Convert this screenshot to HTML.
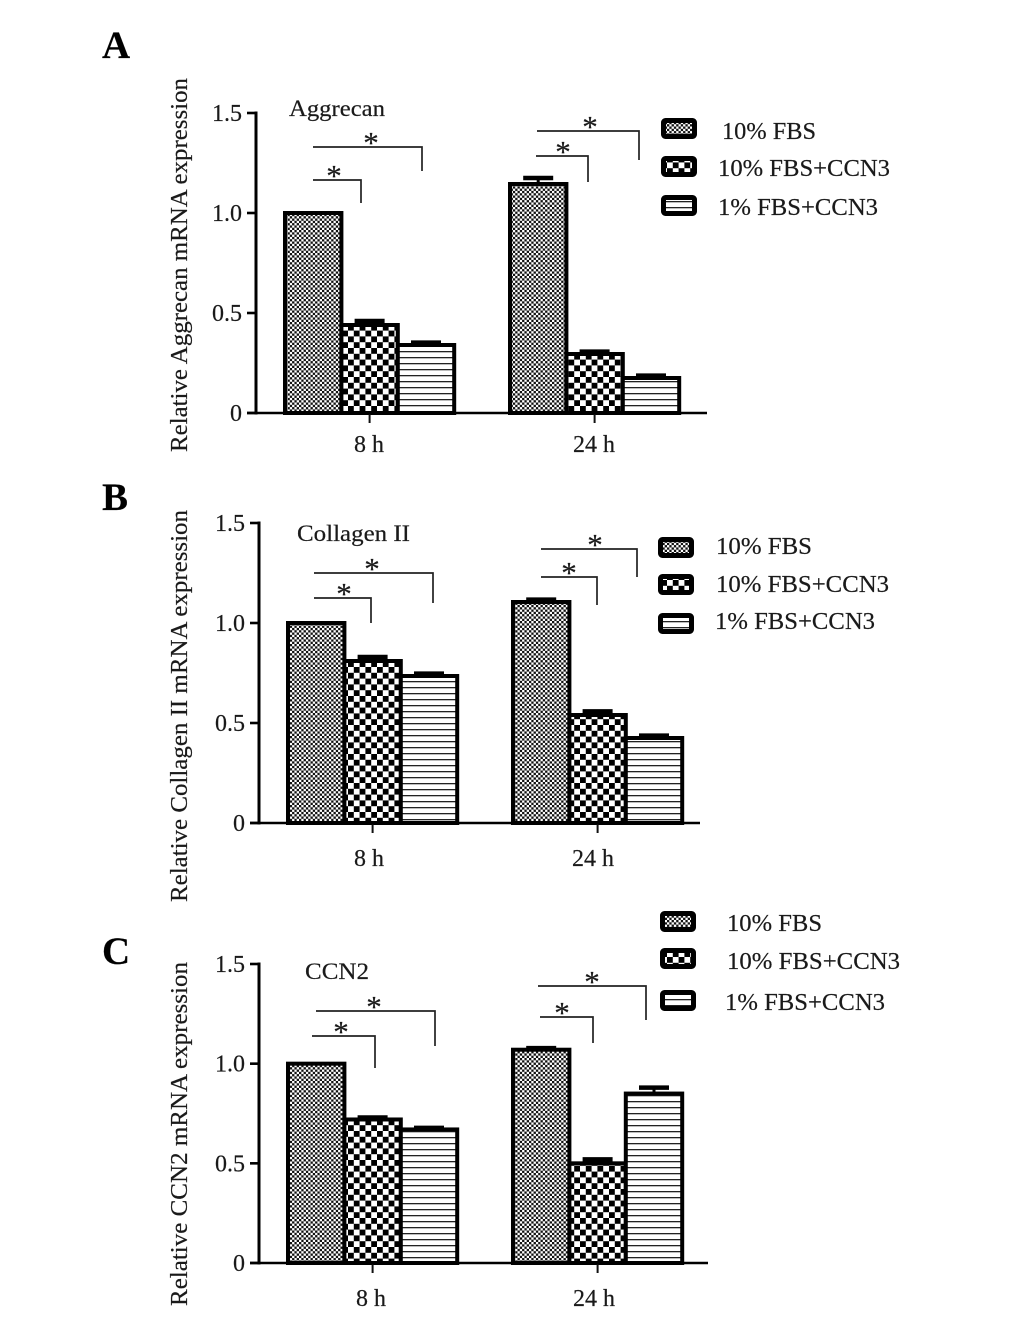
<!DOCTYPE html>
<html>
<head>
<meta charset="utf-8">
<title>mRNA expression bar charts</title>
<style>
html,body{margin:0;padding:0;background:#fff}
svg{display:block}
text{font-family:"Liberation Serif",serif;fill:#1a1a1a;stroke:#1a1a1a;stroke-width:0.2px}
</style>
</head>
<body>
<svg id="figure" width="1033" height="1317" viewBox="0 0 1033 1317" xmlns="http://www.w3.org/2000/svg">
<defs>
<pattern id="fine" patternUnits="userSpaceOnUse" width="4.6" height="4.6"><rect width="4.6" height="4.6" fill="#fff"/><rect width="2.3" height="2.3" fill="#111"/><rect x="2.3" y="2.3" width="2.3" height="2.3" fill="#111"/></pattern>
<pattern id="check" patternUnits="userSpaceOnUse" width="11.6" height="11.6"><rect width="11.6" height="11.6" fill="#fff"/><rect width="5.8" height="5.8" fill="#000"/><rect x="5.8" y="5.8" width="5.8" height="5.8" fill="#000"/></pattern>
<pattern id="lines" patternUnits="userSpaceOnUse" width="6" height="6"><rect width="6" height="6" fill="#fff"/><rect y="3" width="6" height="1.3" fill="#222"/></pattern>
</defs>
</svg>
<script>
const categories = ["8 h", "24 h"];
const seriesNames = ["10% FBS", "10% FBS+CCN3", "1% FBS+CCN3"];
const yTickValues = [0, 0.5, 1.0, 1.5];
const yTickLabels = ["0", "0.5", "1.0", "1.5"];
const aggrecanValues = [[1.0, 0.44, 0.34], [1.145, 0.295, 0.175]];
const aggrecanErrors = [[0, 0.02, 0.012], [0.03, 0.012, 0.012]];
const collagenValues = [[1.0, 0.81, 0.735], [1.105, 0.54, 0.425]];
const collagenErrors = [[0, 0.02, 0.012], [0.012, 0.018, 0.012]];
const ccn2Values = [[1.0, 0.72, 0.67], [1.07, 0.5, 0.85]];
const ccn2Errors = [[0, 0.01, 0.008], [0.008, 0.02, 0.03]];

const NS = "http://www.w3.org/2000/svg";
const svg = document.getElementById("figure");
const fills = ["url(#fine)", "url(#check)", "url(#lines)"];

function add(tag, attrs, parent) {
  const el = document.createElementNS(NS, tag);
  for (const k in attrs) el.setAttribute(k, attrs[k]);
  (parent || svg).appendChild(el);
  return el;
}
function label(parent, str, attrs) {
  const el = add("text", attrs, parent);
  el.textContent = str;
  
  return el;
}

function drawPanel(p) {
  const g = add("g", {});
  
  
  const yScale = v => p.y0 + (p.y15 - p.y0) * (v / 1.5);

  const letter = label(g, p.letter, {x: 102, y: p.letterY, "font-size": 39, "font-weight": "bold", style: "fill:#000"});
  
  const title = label(g, p.title, {x: p.titleX, y: p.titleY, "font-size": 23, textLength: p.titleW, lengthAdjust: "spacingAndGlyphs"});
  

  const yt = label(g, p.yTitle, {
    transform: "translate(187," + p.yTitleStart + ") rotate(-90)",
    "font-size": 24.5, textLength: p.yTitleLen, lengthAdjust: "spacingAndGlyphs"
  });
  

  categories.forEach((cat, c) => {
    p.values[c].forEach((val, s) => {
      const x0 = p.groupX[c] + s * p.barW;
      const yTop = yScale(val);
      const err = p.errors[c][s];
      if (err > 0) {
        const e = add("g", {}, g);
        
        
        const yErr = yScale(val + err);
        const cx = x0 + p.barW / 2;
        add("line", {x1: cx, x2: cx, y1: yTop, y2: yErr, stroke: "#000", "stroke-width": 3}, e);
        add("line", {x1: cx - 15, x2: cx + 15, y1: yErr, y2: yErr, stroke: "#000", "stroke-width": 4.5}, e);
      }
      const bar = add("rect", {
        x: x0, y: yTop, width: p.barW, height: p.y0 - yTop,
        fill: fills[s], stroke: "#000", "stroke-width": 4
      }, g);
      
      
    });
    const cx = p.groupX[c] + p.barW * 1.5;
    const tick = add("line", {x1: cx, x2: cx, y1: p.y0, y2: p.y0 + 10, stroke: "#111", "stroke-width": 2}, g);
    
    
    const xl = label(g, cat, {x: p.catLabelX[c], y: p.catLabelY, "font-size": 24, "text-anchor": "middle"});
    
  });

  const axes = add("g", {}, g);
  
  
  add("line", {x1: p.axisX, x2: p.axisX, y1: yScale(1.5) - 1.5, y2: p.y0 + 1.5, stroke: "#000", "stroke-width": 3}, axes);
  add("line", {x1: p.axisX - 9, x2: p.xEnd, y1: p.y0, y2: p.y0, stroke: "#000", "stroke-width": 2.6}, axes);
  yTickValues.forEach((v, i) => {
    add("line", {x1: p.axisX - 9, x2: p.axisX, y1: yScale(v), y2: yScale(v), stroke: "#000", "stroke-width": 2.6}, axes);
    const t = label(g, yTickLabels[i], {x: p.axisX - 14, y: yScale(v) + 8, "font-size": 24, "text-anchor": "end"});
    
  });

  p.brackets.forEach(b => {
    const br = add("g", {}, g);
    
    
    add("polyline", {points: b.x1 + "," + b.y + " " + b.x2 + "," + b.y + " " + b.x2 + "," + b.end, fill: "none", stroke: "#222", "stroke-width": 1.7}, br);
    const star = label(br, "*", {x: b.star, y: b.y + 6, "font-size": 31, "text-anchor": "middle"});
    
  });

  seriesNames.forEach((name, s) => {
    const lg = add("g", {}, g);
    
    
    const l = p.legend[s];
    add("rect", {x: l.sx + 2.5, y: l.sy + 2.5, width: 31, height: 16, rx: 2, fill: fills[s], stroke: "#000", "stroke-width": 5}, lg);
    const lt = label(lg, name, {x: l.tx, y: l.ty, "font-size": 24, textLength: l.tw, lengthAdjust: "spacingAndGlyphs"});
    
  });
}

drawPanel({
  key: "aggrecan", letter: "A", letterY: 58, title: "Aggrecan", titleX: 289, titleY: 116, titleW: 96,
  yTitle: "Relative Aggrecan mRNA expression", yTitleStart: 452, yTitleLen: 374,
  axisX: 256, y0: 413, y15: 113, xEnd: 707, groupX: [285, 510], barW: 56.4,
  catLabelX: [369, 594], catLabelY: 452,
  values: aggrecanValues, errors: aggrecanErrors,
  brackets: [
    {x1: 313, x2: 361, y: 180, end: 203, star: 334},
    {x1: 313, x2: 422, y: 147, end: 171, star: 371},
    {x1: 536, x2: 588, y: 156, end: 182, star: 563},
    {x1: 537, x2: 639, y: 131, end: 160, star: 590}
  ],
  legend: [
    {sx: 661, sy: 118, tx: 722, ty: 139, tw: 94},
    {sx: 661, sy: 156, tx: 718, ty: 176, tw: 172},
    {sx: 661, sy: 195, tx: 718, ty: 215, tw: 160}
  ]
});
drawPanel({
  key: "collagen", letter: "B", letterY: 510, title: "Collagen II", titleX: 297, titleY: 541, titleW: 113,
  yTitle: "Relative Collagen II mRNA expression", yTitleStart: 902, yTitleLen: 392,
  axisX: 259, y0: 823, y15: 523, xEnd: 700, groupX: [288, 513], barW: 56.4,
  catLabelX: [369, 593], catLabelY: 866,
  values: collagenValues, errors: collagenErrors,
  brackets: [
    {x1: 314, x2: 371, y: 598, end: 623, star: 344},
    {x1: 314, x2: 433, y: 573, end: 603, star: 372},
    {x1: 541, x2: 597, y: 577, end: 605, star: 569},
    {x1: 541, x2: 637, y: 549, end: 577, star: 595}
  ],
  legend: [
    {sx: 658, sy: 537, tx: 716, ty: 554, tw: 96},
    {sx: 658, sy: 574, tx: 716, ty: 592, tw: 173},
    {sx: 658, sy: 613, tx: 715, ty: 629, tw: 160}
  ]
});
drawPanel({
  key: "ccn2", letter: "C", letterY: 964, title: "CCN2", titleX: 305, titleY: 979, titleW: 64,
  yTitle: "Relative CCN2 mRNA expression", yTitleStart: 1306, yTitleLen: 344,
  axisX: 259, y0: 1263, y15: 964, xEnd: 708, groupX: [288, 513], barW: 56.4,
  catLabelX: [371, 594], catLabelY: 1306,
  values: ccn2Values, errors: ccn2Errors,
  brackets: [
    {x1: 312, x2: 375, y: 1036, end: 1068, star: 341},
    {x1: 316, x2: 435, y: 1011, end: 1046, star: 374},
    {x1: 540, x2: 593, y: 1017, end: 1043, star: 562},
    {x1: 538, x2: 646, y: 986, end: 1020, star: 592}
  ],
  legend: [
    {sx: 660, sy: 911, tx: 727, ty: 931, tw: 95},
    {sx: 660, sy: 948, tx: 727, ty: 969, tw: 173},
    {sx: 660, sy: 990, tx: 725, ty: 1010, tw: 160}
  ]
});
</script>
</body>
</html>
